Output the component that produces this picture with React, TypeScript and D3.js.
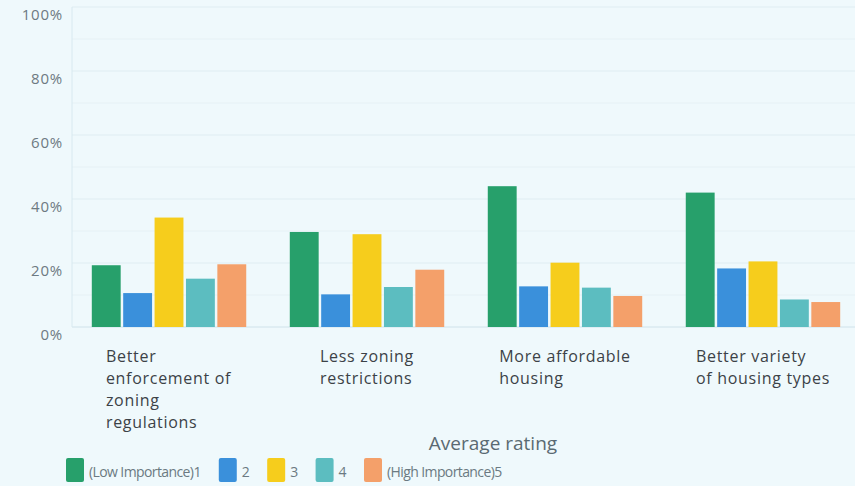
import React, { useEffect, useRef } from "react";
import * as d3 from "d3";

const categories = [
  ["Better", "enforcement of", "zoning", "regulations"],
  ["Less zoning", "restrictions"],
  ["More affordable", "housing"],
  ["Better variety", "of housing types"],
];
const seriesNames = ["(Low Importance)1", "2", "3", "4", "(High Importance)5"];
const seriesColors = ["#27a06b", "#3a90db", "#f6cd1c", "#5cbdc0", "#f4a06a"];
const rating1 = [19.3, 29.7, 44.0, 42.0];
const rating2 = [10.6, 10.2, 12.7, 18.3];
const rating3 = [34.2, 29.0, 20.1, 20.5];
const rating4 = [15.1, 12.5, 12.3, 8.6];
const rating5 = [19.6, 17.9, 9.7, 7.8];
const yTicks = [0, 20, 40, 60, 80, 100];
const legendTitle = "Average rating";

const W = 855;
const H = 486;

export default function App() {
  const ref = useRef<SVGSVGElement>(null);
  useEffect(() => {
    const svg = d3.select(ref.current);
    svg.selectAll("*").remove();
    const series = [rating1, rating2, rating3, rating4, rating5];
    const left = 72, right = 860, top = 7, bottom = 327;
    const y = d3.scaleLinear().domain([0, 100]).range([bottom, top]);
    const x0 = d3.scaleBand<number>().domain(d3.range(categories.length)).range([left, right]).paddingInner(0.22).paddingOuter(0.1);
    const x1 = d3.scaleBand<number>().domain(d3.range(series.length)).range([0, x0.bandwidth()]).paddingInner(0.08);

    svg.append("rect").attr("width", W).attr("height", H).attr("fill", "#eff9fc");

    // grid
    const grid = svg.append("g");
    grid.selectAll("line.minor").data(d3.range(10, 100, 20)).join("line")
      .attr("x1", left).attr("x2", W).attr("y1", d => y(d)).attr("y2", d => y(d))
      .attr("stroke", "#e6f1f5").attr("stroke-width", 1);
    grid.selectAll("line.major").data(yTicks).join("line")
      .attr("x1", left).attr("x2", W).attr("y1", d => y(d)).attr("y2", d => y(d))
      .attr("stroke", d => d === 0 ? "#cfe2ea" : "#dfedf2").attr("stroke-width", 1);
    svg.append("line").attr("x1", left).attr("x2", left).attr("y1", top).attr("y2", bottom)
      .attr("stroke", "#d8e9f0");

    svg.append("g").selectAll("text").data(yTicks).join("text")
      .attr("x", 63).attr("y", d => y(d) + 13)
      .attr("text-anchor", "end")
      .attr("font-family", "'Open Sans', sans-serif").attr("font-size", 15)
      .attr("letter-spacing", 0.8)
      .attr("fill", "#6d7a82")
      .text(d => `${d}%`);

    // bars
    const groups = svg.append("g").selectAll("g").data(categories.map((_, i) => i)).join("g")
      .attr("transform", i => `translate(${x0(i)},0)`);
    groups.selectAll("rect").data(i => series.map((s, k) => ({ k, v: s[i] }))).join("rect")
      .attr("x", d => x1(d.k)!).attr("width", x1.bandwidth())
      .attr("y", d => y(d.v)).attr("height", d => y(0) - y(d.v))
      .attr("fill", d => seriesColors[d.k]);

    // category labels
    categories.forEach((lines, i) => {
      const g = svg.append("g");
      const t = g.append("text")
        .attr("font-family", "'Open Sans', sans-serif").attr("font-size", 16)
        .attr("letter-spacing", 0.7)
        .attr("fill", "#3c4247");
      lines.forEach((ln, j) => {
        t.append("tspan").attr("x", 0).attr("y", 362 + j * 22).text(ln);
      });
      const w = (t.node() as SVGTextElement).getBBox().width;
      const cx = x0(i)! + x0.bandwidth() / 2;
      g.attr("transform", `translate(${cx - w / 2},0)`);
    });

    // legend
    svg.append("text").attr("x", 493).attr("y", 450).attr("text-anchor", "middle")
      .attr("font-family", "'Open Sans', sans-serif").attr("font-size", 19)
      .attr("fill", "#5a6a72").text(legendTitle);
    const lg = svg.append("g");
    let lx = 66;
    seriesNames.forEach((name, k) => {
      lg.append("rect").attr("x", lx).attr("y", 458).attr("width", 18).attr("height", 24)
        .attr("rx", 2).attr("fill", seriesColors[k]);
      const t = lg.append("text").attr("x", lx + 23).attr("y", 477)
        .attr("font-family", "'Open Sans', sans-serif").attr("font-size", 14)
        .attr("letter-spacing", -0.6)
        .attr("fill", "#6b7a82").text(name);
      const w = (t.node() as SVGTextElement).getComputedTextLength();
      lx += 23 + w + 18;
    });
  }, []);
  return (
    <svg ref={ref} width={W} height={H} style={{ position: "absolute", left: 0, top: 0, display: "block" }} />
  );
}
